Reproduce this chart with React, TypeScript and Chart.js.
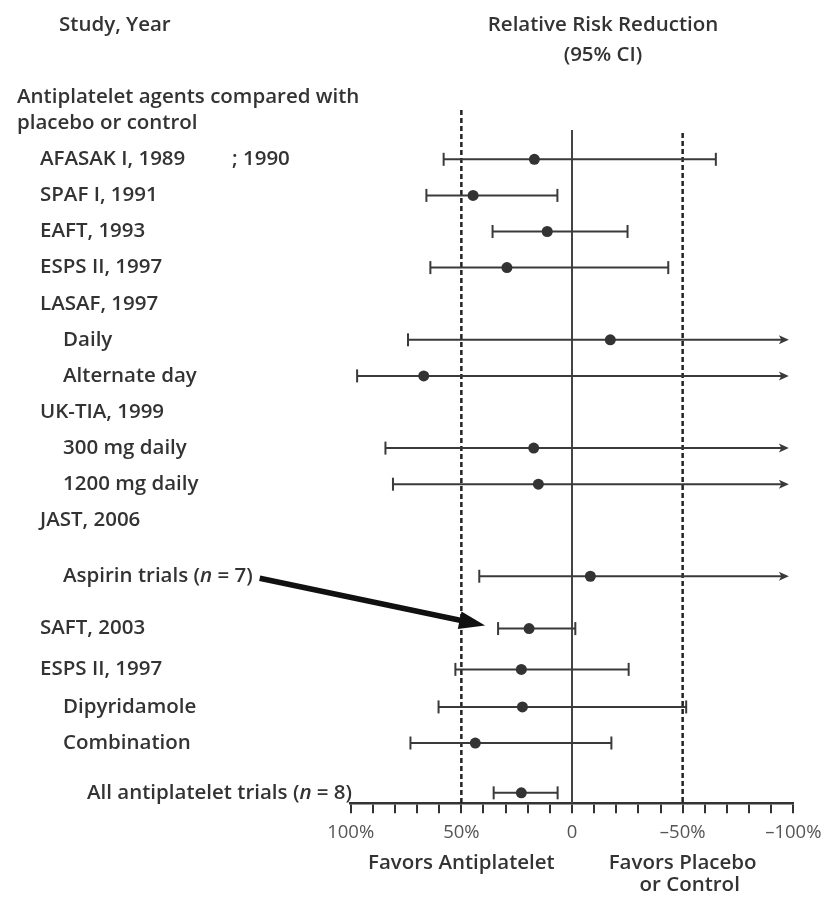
import React, { useEffect, useRef } from "react";
import { Chart, registerables } from "chart.js";

Chart.register(...registerables);

// ---- Data ----
const rowLabels = [
  "AFASAK I, 1989",
  "SPAF I, 1991",
  "EAFT, 1993",
  "ESPS II, 1997",
  "LASAF, 1997",
  "Daily",
  "Alternate day",
  "UK-TIA, 1999",
  "300 mg daily",
  "1200 mg daily",
  "JAST, 2006",
  "Aspirin trials (_n_ = 7)",
  "SAFT, 2003",
  "ESPS II, 1997",
  "Dipyridamole",
  "Combination",
  "All antiplatelet trials (_n_ = 8)",
];
const rowIndent = [1, 1, 1, 1, 1, 2, 2, 1, 2, 2, 1, 2, 1, 1, 2, 2, 3];
const rowPos = [0, 1, 2, 3, 4, 5, 6, 7, 8, 9, 10, 11.55, 13, 14.13, 15.17, 16.17, 17.55];
// relative risk reduction, % (positive favors antiplatelet)
const estimate = [17, 44.7, 11.2, 29.4, null, -17.3, 67, null, 17.3, 15.2, null, -8.3, 19.4, 22.9, 22.4, 43.7, 22.9];
const ciHigh = [58, 65.8, 35.9, 64, null, 74.1, 97.1, null, 84.3, 80.9, null, 41.9, 33.4, 52.7, 60.3, 73, 35.4];
// null => extends beyond axis (arrow)
const ciLow = [-65, 6.6, -25.1, -43.5, null, null, null, null, null, null, null, null, -1.5, -25.6, -51.6, -17.8, 6.5];
const hasCI = [true, true, true, true, false, true, true, false, true, true, false, true, true, true, true, true, true];
const groupHeader = ["Antiplatelet agents compared with", "placebo or control"];
const tickValues = [100, 50, 0, -50, -100];

const FONT = '"Open Sans", "DejaVu Sans", sans-serif';
const TEXT = "#333";
const INK = "#3a3a3a";
const SIZE = 20.5;

function fmtTick(v: number) {
  if (v === 0) return "0";
  if (v < 0) return "\u2013" + Math.abs(v) + "%";
  return v + "%";
}

function drawRich(ctx: CanvasRenderingContext2D, text: string, x: number, y: number, size: number) {
  const parts = text.split("_");
  let cx = x;
  parts.forEach((p, i) => {
    ctx.font = (i % 2 === 1 ? "italic " : "") + `600 ${size}px ${FONT}`;
    ctx.fillText(p, cx, y);
    cx += ctx.measureText(p).width;
  });
  return cx;
}

const forestPlugin = {
  id: "forest",
  beforeDatasetsDraw(chart: any) {
    const { ctx, scales, chartArea } = chart;
    const xs = scales.x;
    const ys = scales.y;
    ctx.save();
    // reference lines
    ctx.strokeStyle = "#222";
    ctx.lineWidth = 2.5;
    ctx.setLineDash([5, 3]);
    ctx.beginPath();
    ctx.moveTo(xs.getPixelForValue(50), chartArea.top);
    ctx.lineTo(xs.getPixelForValue(50), chartArea.bottom);
    ctx.stroke();
    ctx.beginPath();
    ctx.moveTo(xs.getPixelForValue(-50), ys.getPixelForValue(-0.73));
    ctx.lineTo(xs.getPixelForValue(-50), chartArea.bottom);
    ctx.stroke();
    ctx.setLineDash([]);
    ctx.strokeStyle = "#444";
    ctx.lineWidth = 2;
    ctx.beginPath();
    ctx.moveTo(xs.getPixelForValue(0), ys.getPixelForValue(-0.81));
    ctx.lineTo(xs.getPixelForValue(0), chartArea.bottom);
    ctx.stroke();

    // CI lines
    ctx.strokeStyle = INK;
    ctx.fillStyle = INK;
    ctx.lineWidth = 2;
    for (let i = 0; i < rowLabels.length; i++) {
      if (!hasCI[i]) continue;
      const y = ys.getPixelForValue(rowPos[i]);
      const x1 = xs.getPixelForValue(ciHigh[i] as number);
      const arrow = ciLow[i] === null;
      const x2 = arrow ? xs.getPixelForValue(-98) : xs.getPixelForValue(ciLow[i] as number);
      ctx.beginPath();
      ctx.moveTo(x1, y);
      ctx.lineTo(arrow ? x2 - 6 : x2, y);
      ctx.stroke();
      ctx.beginPath();
      ctx.moveTo(x1, y - 6.5);
      ctx.lineTo(x1, y + 6.5);
      ctx.stroke();
      if (arrow) {
        ctx.beginPath();
        ctx.moveTo(x2, y);
        ctx.lineTo(x2 - 10, y - 4.5);
        ctx.lineTo(x2 - 7.5, y);
        ctx.lineTo(x2 - 10, y + 4.5);
        ctx.closePath();
        ctx.fill();
      } else {
        ctx.beginPath();
        ctx.moveTo(x2, y - 6.5);
        ctx.lineTo(x2, y + 6.5);
        ctx.stroke();
      }
    }
    ctx.restore();
  },
  afterDraw(chart: any) {
    const { ctx, scales } = chart;
    const xs = scales.x;
    const ys = scales.y;
    ctx.save();
    ctx.fillStyle = TEXT;
    ctx.textBaseline = "middle";
    ctx.textAlign = "left";
    const size = SIZE;
    // headers
    ctx.font = `600 ${size}px ${FONT}`;
    ctx.fillText("Study, Year", 59, 25);
    ctx.textAlign = "center";
    ctx.fillText("Relative Risk Reduction", 603, 25);
    ctx.fillText("(95% CI)", 603, 55);
    ctx.textAlign = "left";
    ctx.fillText(groupHeader[0], 17, ys.getPixelForValue(-1.73));
    ctx.fillText(groupHeader[1], 17, ys.getPixelForValue(-1.0));
    const indentX = [17, 40, 63, 87];
    let aspirinEnd = 0;
    for (let i = 0; i < rowLabels.length; i++) {
      const y = ys.getPixelForValue(rowPos[i]);
      const end = drawRich(ctx, rowLabels[i], indentX[rowIndent[i]], y, size);
      if (i === 11) aspirinEnd = end;
    }
    ctx.font = `600 ${size}px ${FONT}`;
    ctx.fillText("; 1990", 232, ys.getPixelForValue(rowPos[0]));

    // annotation arrow: aspirin trials -> SAFT
    const sx = aspirinEnd + 7;
    const sy = ys.getPixelForValue(rowPos[11]) + 2;
    const tx = xs.getPixelForValue(ciHigh[12] as number) - 13;
    const ty = ys.getPixelForValue(rowPos[12]) - 3;
    const ang = Math.atan2(ty - sy, tx - sx);
    const hl = 26, hw = 9;
    const bx = tx - hl * Math.cos(ang), by = ty - hl * Math.sin(ang);
    ctx.strokeStyle = "#111";
    ctx.fillStyle = "#111";
    ctx.lineWidth = 5.5;
    ctx.beginPath();
    ctx.moveTo(sx, sy);
    ctx.lineTo(bx + 4 * Math.cos(ang), by + 4 * Math.sin(ang));
    ctx.stroke();
    ctx.beginPath();
    ctx.moveTo(tx, ty);
    ctx.lineTo(bx - hw * Math.sin(ang), by + hw * Math.cos(ang));
    ctx.lineTo(bx + hw * Math.sin(ang), by - hw * Math.cos(ang));
    ctx.closePath();
    ctx.fill();

    // axis captions
    ctx.fillStyle = TEXT;
    ctx.textAlign = "center";
    ctx.font = `600 ${size}px ${FONT}`;
    ctx.fillText("Favors Antiplatelet", xs.getPixelForValue(50), 863);
    ctx.fillText("Favors Placebo", xs.getPixelForValue(-50), 863);
    ctx.fillText("or Control", xs.getPixelForValue(-50) + 7, 885);
    ctx.restore();
  },
};

export default function App() {
  const ref = useRef<HTMLCanvasElement | null>(null);
  useEffect(() => {
    document.body.style.margin = "0";
    let chart: Chart | null = null;
    let cancelled = false;
    const make = () => {
      if (cancelled || !ref.current) return;
      const pts: { x: number; y: number }[] = [];
      estimate.forEach((v, i) => {
        if (v !== null) pts.push({ x: v, y: rowPos[i] });
      });
      chart = new Chart(ref.current, {
        type: "scatter",
        data: {
          datasets: [
            {
              data: pts,
              pointRadius: 5.5,
              pointBackgroundColor: "#333",
              pointBorderWidth: 0,
              showLine: false,
            },
          ],
        },
        options: {
          animation: false,
          responsive: false,
          layout: { padding: { left: 350.7, right: 45.7, top: 110, bottom: 0 } },
          plugins: { legend: { display: false }, tooltip: { enabled: false } },
          scales: {
            x: {
              type: "linear",
              min: -100,
              max: 100,
              reverse: true,
              afterBuildTicks: (scale: any) => {
                const t = [];
                for (let v = 100; v >= -100; v -= 10) t.push({ value: v });
                scale.ticks = t;
              },
              ticks: {
                autoSkip: false,
                maxRotation: 0,
                padding: 8,
                color: "#555",
                font: { family: FONT, size: 18.5 },
                callback: (v: any) => (tickValues.includes(Number(v)) ? fmtTick(Number(v)) : ""),
              },
              grid: { drawOnChartArea: false, drawTicks: true, tickLength: 10, color: "#333", lineWidth: 2 },
              border: { display: true, color: "#333", width: 2.5 },
              afterFit: (scale: any) => {
                scale.height = 96.7;
              },
            },
            y: { type: "linear", display: false, min: -1.366, max: 17.84, reverse: true },
          },
        },
        plugins: [forestPlugin],
      } as any);
    };
    const fonts = (document as any).fonts;
    if (fonts && fonts.load) {
      Promise.all([
        fonts.load(`600 ${SIZE}px "Open Sans"`),
        fonts.load(`italic 600 ${SIZE}px "Open Sans"`),
        fonts.load(`18px "Open Sans"`),
      ])
        .catch(() => {})
        .then(make);
    } else make();
    return () => {
      cancelled = true;
      if (chart) chart.destroy();
    };
  }, []);
  return (
    <div style={{ width: 839, height: 900, background: "#fff" }}>
      <canvas ref={ref} width={839} height={900} style={{ display: "block" }} />
    </div>
  );
}
